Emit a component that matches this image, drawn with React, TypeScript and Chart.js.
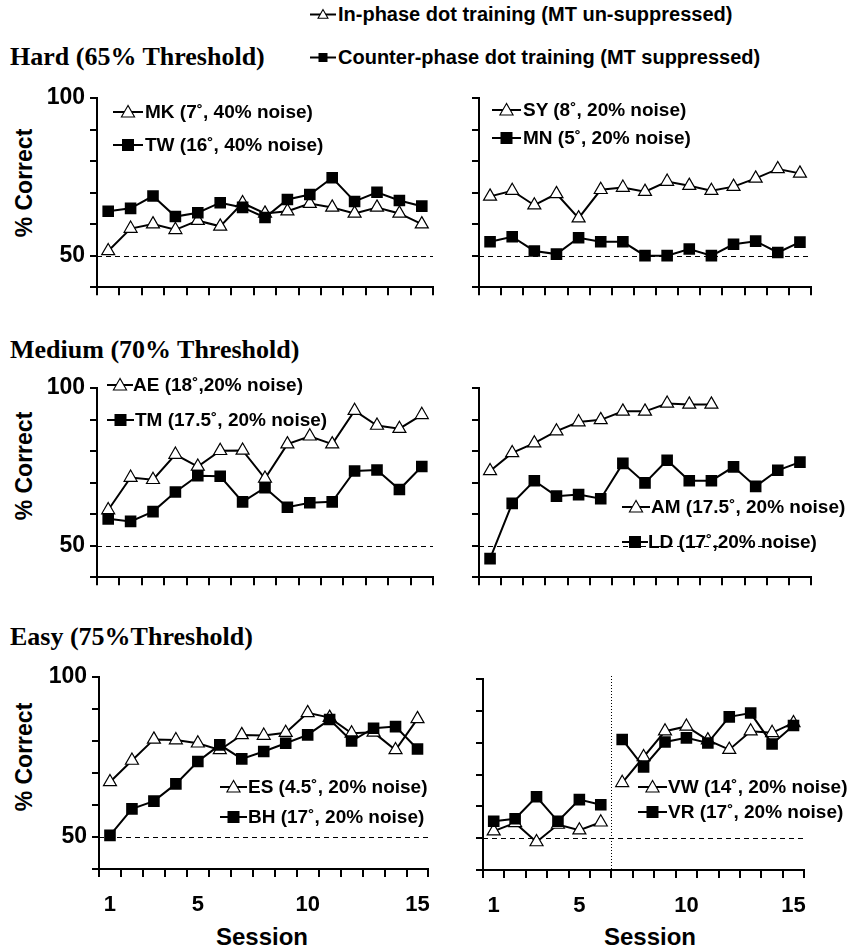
import React, { useEffect, useRef } from 'react';
import { Chart, registerables } from 'chart.js';

Chart.register(...registerables);

// ---------- data ----------
const sessions = ['1', '2', '3', '4', '5', '6', '7', '8', '9', '10', '11', '12', '13', '14', '15'];
const xTickLabels = ['1', '5', '10', '15'];
const yTickLabels = [50, 100];
const yMin = 40;
const yMax = 100;
const chanceLevel = 50;

// Hard (65% threshold)
const mk = [51.5, 58.6, 60, 58.2, 61.1, 59.3, 66.7, 63.4, 64.1, 66.5, 65.3, 63.4, 65.3, 63.4, 60];
const tw = [64.1, 65, 68.9, 62.4, 63.6, 66.8, 65.3, 62.1, 67.8, 69.4, 74.7, 67.2, 70.1, 67.5, 65.7];
const sy = [68.8, 70.6, 66, 69.6, 61.9, 70.9, 71.6, 70.3, 73.5, 72.2, 70.6, 71.9, 74.5, 77.5, 76.1];
const mn = [54.4, 56, 51.5, 50.5, 55.7, 54.4, 54.4, 50, 50, 52.1, 50, 53.6, 54.6, 51, 54.3];
// Medium (70% threshold)
const ae = [61.3, 71.6, 70.9, 78.9, 75.1, 80.1, 80.2, 71.3, 82.2, 84.7, 82.2, 92.8, 88.1, 87.1, 91.5];
const tm = [58.5, 57.7, 60.8, 67, 72.2, 72, 63.9, 68.4, 62.2, 63.6, 63.9, 73.7, 74, 67.8, 75.1];
const am = [73.7, 79.4, 82.5, 86.3, 89.2, 89.9, 92.6, 92.6, 95.1, 94.8, 94.8];
const ld = [45.9, 63.4, 70.6, 65.7, 66.2, 64.9, 76.1, 69.9, 77.1, 70.6, 70.6, 75, 68.8, 73.9, 76.5];
// Easy (75% threshold)
const es = [67.2, 73.9, 80.5, 80.3, 79.3, 77.2, 81.9, 81.7, 82.6, 88.8, 87.3, 82.4, 82.7, 77.2, 86.9];
const bh = [50.5, 58.8, 61.2, 66.6, 73.6, 78.8, 74.4, 76.7, 79.3, 81.9, 86.7, 80, 84, 84.5, 77.5];
const vw = [52.2, 54.8, 48.8, 54.3, 52.5, 55, 67.4, 75.5, 83.6, 85.1, 80.8, 77.8, 83.6, 83.1, 86.2];
const vr = [55.3, 56.1, 63, 55.3, 62.1, 60.5, 81, 72.4, 80.2, 81.5, 79.9, 88.1, 89.3, 79.6, 85.4];

// ---------- drawing helpers ----------
const SANS = '"Liberation Sans", Arial, sans-serif';
const SERIF = '"Liberation Serif", "Times New Roman", serif';

const refLines = {
  id: 'refLines',
  beforeDatasetsDraw(chart: any, _args: any, opts: any) {
    const { ctx, chartArea, scales } = chart;
    ctx.save();
    ctx.strokeStyle = '#000';
    ctx.lineWidth = 1;
    ctx.setLineDash([5, 4]);
    const y = Math.round(scales.y.getPixelForValue(opts.y)) + 0.5;
    ctx.beginPath();
    ctx.moveTo(chartArea.left, y);
    ctx.lineTo(chartArea.right, y);
    ctx.stroke();
    if (opts.splitAfter != null) {
      const x0 = scales.x.getPixelForValue(opts.splitAfter - 1);
      const x1 = scales.x.getPixelForValue(opts.splitAfter);
      const x = Math.round((x0 + x1) / 2) + 0.5;
      ctx.setLineDash([1, 2]);
      ctx.beginPath();
      ctx.moveTo(x, chartArea.top - 3);
      ctx.lineTo(x, chartArea.bottom);
      ctx.stroke();
    }
    ctx.restore();
  },
};

type Series = { data: number[]; kind: 'tri' | 'sq' };
type PanelProps = {
  l: number; r: number; t: number; b: number;
  series: Series[];
  yLabels: boolean;
  xLabels: boolean;
  splitAfter?: number;
};

const YW = 95;
const PT = 20;
const PR = 8;

function Panel({ l, r, t, b, series, yLabels, xLabels, splitAfter }: PanelProps) {
  const ref = useRef<HTMLCanvasElement | null>(null);
  const XH = xLabels ? 60 : 14;
  const width = r - l + YW + PR;
  const height = b - t + PT + XH;
  useEffect(() => {
    if (!ref.current) return;
    const datasets = series.map((s) => {
      const tri = s.kind === 'tri';
      return {
        data: s.data,
        borderColor: '#000',
        borderWidth: 2,
        pointStyle: tri ? 'triangle' : 'rect',
        pointRadius: tri ? 7.5 : 8.2,
        pointBackgroundColor: tri ? '#fff' : '#000',
        pointBorderColor: '#000',
        pointBorderWidth: tri ? 1.2 : 0,
        order: tri ? 1 : 0,
        spanGaps: false,
        segment: splitAfter != null
          ? { borderColor: (c: any) => (c.p0DataIndex === splitAfter - 1 ? 'rgba(0,0,0,0)' : '#000') }
          : undefined,
      };
    });
    const chart = new Chart(ref.current, {
      type: 'line',
      data: { labels: sessions, datasets: datasets as any },
      plugins: [refLines as any],
      options: {
        animation: false,
        responsive: false,
        devicePixelRatio: 1,
        events: [],
        layout: { padding: { top: PT, right: PR, left: 0, bottom: 0 }, autoPadding: false } as any,
        plugins: {
          legend: { display: false },
          tooltip: { enabled: false },
          refLines: { y: chanceLevel, splitAfter },
        } as any,
        scales: {
          x: {
            type: 'category',
            offset: true,
            afterFit: (s: any) => { s.height = XH; },
            grid: {
              offset: true,
              drawOnChartArea: false,
              drawTicks: true,
              tickLength: 8,
              tickWidth: 2,
              tickColor: '#000',
              color: '#000',
              lineWidth: 2,
            },
            border: { display: true, color: '#000', width: 2 },
            ticks: {
              display: xLabels,
              autoSkip: false,
              maxRotation: 0,
              padding: 15,
              color: '#000',
              font: { family: SANS, size: 22, weight: 'bold' },
              callback: (_v: any, i: number) => (xTickLabels.includes(sessions[i]) ? sessions[i] : ''),
            },
          },
          y: {
            min: yMin,
            max: yMax,
            afterFit: (s: any) => { s.width = YW; },
            grid: {
              drawOnChartArea: false,
              drawTicks: true,
              tickLength: 7,
              tickWidth: 2,
              tickColor: '#000',
              color: '#000',
              lineWidth: 2,
            },
            border: { display: true, color: '#000', width: 2 },
            ticks: {
              stepSize: 10,
              padding: 5,
              color: '#000',
              font: { family: SANS, size: 23, weight: 'bold' },
              callback: (v: any) => (yLabels && yTickLabels.includes(Number(v)) ? String(v) : ''),
            },
          },
        },
      } as any,
    });
    return () => chart.destroy();
  }, []);
  return (
    <canvas
      ref={ref}
      width={width}
      height={height}
      style={{ position: 'absolute', left: l - YW, top: t - PT, width, height }}
    />
  );
}

function Marker({ kind, w, s }: { kind: 'tri' | 'sq'; w: number; s: number }) {
  const h = s + 4;
  const cx = w / 2;
  const cy = h / 2;
  return (
    <svg width={w} height={h} style={{ display: 'block' }}>
      <line x1={0} y1={cy} x2={w} y2={cy} stroke="#000" strokeWidth={2} />
      {kind === 'tri' ? (
        <polygon
          points={`${cx},${cy - s * 0.55} ${cx - s * 0.55},${cy + s * 0.42} ${cx + s * 0.55},${cy + s * 0.42}`}
          fill="#fff"
          stroke="#000"
          strokeWidth={1.1}
        />
      ) : (
        <rect x={cx - s / 2} y={cy - s / 2} width={s} height={s} fill="#000" />
      )}
    </svg>
  );
}

function LegendRow({ x, y, w, tx, kind, text, size, s }: { x: number; y: number; w: number; tx: number; kind: 'tri' | 'sq'; text: string; size: number; s: number }) {
  const h = s + 4;
  return (
    <>
      <div style={{ position: 'absolute', left: x, top: y - h / 2 }}>
        <Marker kind={kind} w={w} s={s} />
      </div>
      <div
        style={{
          position: 'absolute', left: tx, top: y - size * 0.6, lineHeight: `${size * 1.2}px`,
          fontFamily: SANS, fontWeight: 'bold', fontSize: size, whiteSpace: 'nowrap', color: '#000',
        }}
      >
        {text}
      </div>
    </>
  );
}

function Label({ x, y, text, size, serif, rotate, center }: { x: number; y: number; text: string; size: number; serif?: boolean; rotate?: boolean; center?: boolean }) {
  const style: any = {
    position: 'absolute', left: x, top: y, lineHeight: `${size * 1.2}px`,
    fontFamily: serif ? SERIF : SANS, fontWeight: 'bold', fontSize: size, whiteSpace: 'nowrap', color: '#000',
  };
  if (rotate) style.transform = 'translate(-50%, -50%) rotate(-90deg)';
  else if (center) style.transform = 'translate(-50%, -50%)';
  else style.transform = 'translateY(-50%)';
  return <div style={style}>{text}</div>;
}

export default function App() {
  return (
    <div style={{ position: 'absolute', left: 0, top: 0, width: 855, height: 951, background: '#fff', overflow: 'hidden' }}>
      {/* overall legend */}
      <LegendRow x={310} y={14} w={26} tx={338} kind="tri" text="In-phase dot training (MT un-suppressed)" size={20} s={9} />
      <LegendRow x={310} y={57} w={26} tx={338} kind="sq" text="Counter-phase dot training (MT suppressed)" size={20} s={9} />

      {/* section headings */}
      <Label x={10} y={57} text="Hard (65% Threshold)" size={26} serif />
      <Label x={10} y={350} text="Medium (70% Threshold)" size={26} serif />
      <Label x={10} y={637} text="Easy (75%Threshold)" size={26} serif />

      {/* y-axis titles */}
      <Label x={25} y={183} text="% Correct" size={23} rotate />
      <Label x={25} y={466} text="% Correct" size={23} rotate />
      <Label x={25} y={757} text="% Correct" size={23} rotate />

      {/* x-axis titles */}
      <Label x={262} y={937} text="Session" size={24} center />
      <Label x={650} y={937} text="Session" size={24} center />

      {/* panels */}
      <Panel l={97} r={433} t={98} b={292} yLabels xLabels={false} series={[{ data: mk, kind: 'tri' }, { data: tw, kind: 'sq' }]} />
      <Panel l={479} r={811} t={98} b={292} yLabels={false} xLabels={false} series={[{ data: sy, kind: 'tri' }, { data: mn, kind: 'sq' }]} />
      <Panel l={97} r={433} t={388} b={582} yLabels xLabels={false} series={[{ data: ae, kind: 'tri' }, { data: tm, kind: 'sq' }]} />
      <Panel l={479} r={811} t={388} b={582} yLabels={false} xLabels={false} series={[{ data: am, kind: 'tri' }, { data: ld, kind: 'sq' }]} />
      <Panel l={99} r={437} t={677} b={869} yLabels xLabels series={[{ data: es, kind: 'tri' }, { data: bh, kind: 'sq' }]} />
      <Panel l={483} r={813} t={679} b={870} yLabels={false} xLabels splitAfter={6} series={[{ data: vw, kind: 'tri' }, { data: vr, kind: 'sq' }]} />

      {/* panel legends */}
      <LegendRow x={113} y={112} w={30} tx={145} kind="tri" text="MK (7˚, 40% noise)" size={19} s={12} />
      <LegendRow x={113} y={145} w={30} tx={145} kind="sq" text="TW (16˚, 40% noise)" size={19} s={12} />
      <LegendRow x={492} y={110} w={29} tx={523} kind="tri" text="SY (8˚, 20% noise)" size={19} s={12} />
      <LegendRow x={492} y={138} w={29} tx={523} kind="sq" text="MN (5˚, 20% noise)" size={19} s={12} />
      <LegendRow x={107} y={385} w={26} tx={133} kind="tri" text="AE (18˚,20% noise)" size={19} s={12} />
      <LegendRow x={107} y={420} w={27} tx={135} kind="sq" text="TM (17.5˚, 20% noise)" size={19} s={12} />
      <LegendRow x={622} y={507} w={28} tx={651} kind="tri" text="AM (17.5˚, 20% noise)" size={19} s={12} />
      <LegendRow x={622} y={542} w={26} tx={648} kind="sq" text="LD (17˚,20% noise)" size={19} s={12} />
      <LegendRow x={220} y={787} w={27} tx={248} kind="tri" text="ES (4.5˚, 20% noise)" size={19} s={12} />
      <LegendRow x={220} y={817} w={27} tx={248} kind="sq" text="BH (17˚, 20% noise)" size={19} s={12} />
      <LegendRow x={638} y={787} w={29} tx={668} kind="tri" text="VW (14˚, 20% noise)" size={19} s={12} />
      <LegendRow x={638} y={812} w={29} tx={668} kind="sq" text="VR (17˚, 20% noise)" size={19} s={12} />
    </div>
  );
}
